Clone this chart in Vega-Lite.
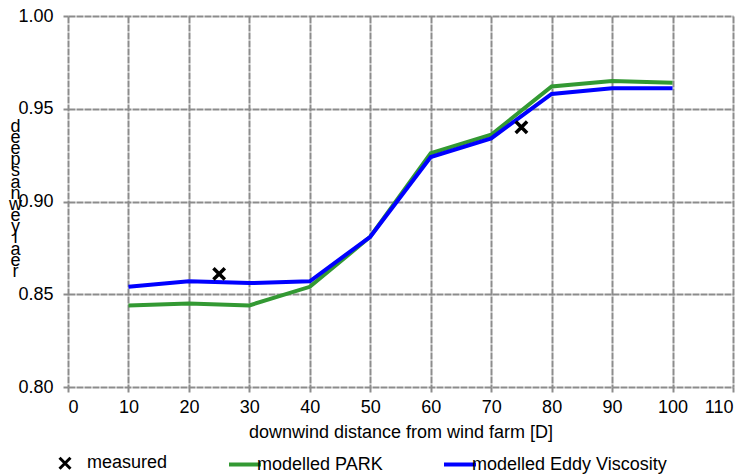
{
  "$schema": "https://vega.github.io/schema/vega-lite/v6.json",
  "width": 665,
  "height": 371,
  "autosize": {"type": "none"},
  "padding": {"left": 68, "top": 16, "right": 16, "bottom": 88},
  "background": "white",
  "config": {
    "view": {"stroke": null},
    "font": "Liberation Sans",
    "axis": {
      "gridColor": "#8c8c8c", "gridWidth": 2, "gridDash": [7, 1], "gridOpacity": 1,
      "domain": false, "tickColor": "#8c8c8c", "tickWidth": 2, "tickSize": 5,
      "labelFont": "Liberation Sans", "labelFontSize": 18, "labelColor": "#000",
      "titleFont": "Liberation Sans", "titleFontSize": 18, "titleFontWeight": "normal", "titleColor": "#000"
    }
  },
  "data": {"values": [
    {"series": "modelled PARK", "x": 10, "y": 0.844},
    {"series": "modelled PARK", "x": 20, "y": 0.845},
    {"series": "modelled PARK", "x": 30, "y": 0.844},
    {"series": "modelled PARK", "x": 40, "y": 0.854},
    {"series": "modelled PARK", "x": 50, "y": 0.881},
    {"series": "modelled PARK", "x": 60, "y": 0.926},
    {"series": "modelled PARK", "x": 70, "y": 0.936},
    {"series": "modelled PARK", "x": 80, "y": 0.962},
    {"series": "modelled PARK", "x": 90, "y": 0.965},
    {"series": "modelled PARK", "x": 100, "y": 0.964},
    {"series": "modelled Eddy Viscosity", "x": 10, "y": 0.854},
    {"series": "modelled Eddy Viscosity", "x": 20, "y": 0.857},
    {"series": "modelled Eddy Viscosity", "x": 30, "y": 0.856},
    {"series": "modelled Eddy Viscosity", "x": 40, "y": 0.857},
    {"series": "modelled Eddy Viscosity", "x": 50, "y": 0.881},
    {"series": "modelled Eddy Viscosity", "x": 60, "y": 0.924},
    {"series": "modelled Eddy Viscosity", "x": 70, "y": 0.934},
    {"series": "modelled Eddy Viscosity", "x": 80, "y": 0.958},
    {"series": "modelled Eddy Viscosity", "x": 90, "y": 0.961},
    {"series": "modelled Eddy Viscosity", "x": 100, "y": 0.961},
    {"series": "measured", "x": 25, "y": 0.861},
    {"series": "measured", "x": 75, "y": 0.940}
  ]},
  "encoding": {
    "x": {"field": "x", "type": "quantitative",
      "scale": {"domain": [0, 110], "nice": false, "zero": false},
      "axis": {"values": [0,10,20,30,40,50,60,70,80,90,100,110], "title": "downwind distance from wind farm [D]", "labelPadding": 6, "titlePadding": 7}},
    "y": {"field": "y", "type": "quantitative",
      "scale": {"domain": [0.8, 1.0], "nice": false, "zero": false},
      "axis": {"values": [0.8, 0.85, 0.9, 0.95, 1.0], "format": ".2f", "labelPadding": 10,
        "title": ["d","e","e","p","s","a","n","w","e","y","l","a","e","r"],
        "titleAngle": 0, "titleAlign": "center", "titleBaseline": "top",
        "titleX": -53, "titleY": 101, "titleLineHeight": 11.2}},
    "color": {"field": "series", "type": "nominal",
      "scale": {"domain": ["measured", "modelled PARK", "modelled Eddy Viscosity"], "range": ["#000000", "#339933", "#0000ff"]},
      "legend": {"orient": "none", "legendX": -12, "legendY": 438, "direction": "horizontal", "title": null,
        "labelFont": "Liberation Sans", "labelFontSize": 18, "labelColor": "#000", "labelOffset": 3, "labelLimit": 400,
        "symbolType": "stroke", "symbolStrokeWidth": 4, "symbolSize": 1024, "columnPadding": 53,
        "encode": {
          "symbols": {"update": {
            "shape": {"signal": "datum.value === 'measured' ? 'M-1,-1L1,1M1,-1L-1,1' : 'stroke'"},
            "size": {"signal": "datum.value === 'measured' ? 120 : 1024"},
            "strokeWidth": {"signal": "datum.value === 'measured' ? 3 : 4"}
          }},
          "labels": {"update": {"dx": {"signal": "datum.value === 'measured' ? 10 : 0"}}}
        }}}
  },
  "layer": [
    {"transform": [{"filter": "datum.series !== 'measured'"}],
     "mark": {"type": "line", "strokeWidth": 4},
     "encoding": {"order": {"field": "x"}}},
    {"transform": [{"filter": "datum.series === 'measured'"}],
     "mark": {"type": "point", "shape": "M-1,-1L1,1M1,-1L-1,1", "filled": false, "strokeWidth": 3.5, "size": 130, "opacity": 1}}
  ]
}
